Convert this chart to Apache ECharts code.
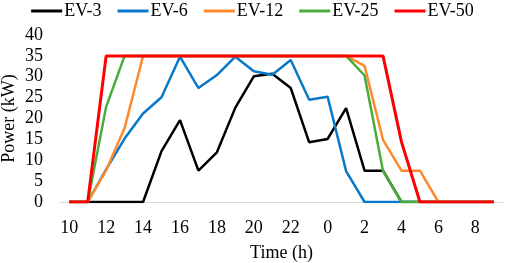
<!DOCTYPE html>
<html>
<head>
<meta charset="utf-8">
<script src="https://cdn.jsdelivr.net/npm/echarts@6/dist/echarts.min.js"></script>
<style>html,body{margin:0;padding:0;background:#fff;}#c{width:505px;height:263px;}</style>
</head>
<body>
<div id="c"></div>
<script>
var hours = ['10','11','12','13','14','15','16','17','18','19','20','21','22','23','0','1','2','3','4','5','6','7','8','9'];
var ev3  = [0,0,0,0,0,12.2,19.6,7.5,11.9,22.6,30.1,30.7,27.3,14.3,15.1,22.5,7.5,7.5,0,0,0,0,0,0];
var ev6  = [0,0,7.8,15.2,21.2,25.1,34.8,27.3,30.4,34.8,31.3,30.5,34,24.5,25.2,7.4,0,0,0,0,0,0,0,0];
var ev12 = [0,0,7.6,17.7,35,35,35,35,35,35,35,35,35,35,35,35,32.6,14.9,7.5,7.5,0,0,0,0];
var ev25 = [0,0,22.8,35,35,35,35,35,35,35,35,35,35,35,35,35,30.3,7.4,0,0,0,0,0,0];
var ev50 = [0,0,35,35,35,35,35,35,35,35,35,35,35,35,35,35,35,35,14.4,0,0,0,0,0];
var names = ['EV-3','EV-6','EV-12','EV-25','EV-50'];
var colors = ['#000000','#0a78c8','#ff8a2e','#48ad3a','#ff0000'];
var allData = [ev3, ev6, ev12, ev25, ev50];
var yTicks = [0,5,10,15,20,25,30,35,40];

var font = 'Liberation Serif';
var series = names.map(function(n,i){
  return {name:n,type:'line',data:allData[i],symbol:'none',showSymbol:false,
    lineStyle:{color:colors[i],width:i===4?3:2.5},itemStyle:{color:colors[i]},
    animation:false};
});
var chart = echarts.init(document.getElementById('c'));
chart.setOption({
  animation:false,
  color:colors,
  legend:{top:-3,left:'center',icon:'rect',itemWidth:31,itemHeight:3,itemGap:16,
    textStyle:{fontFamily:font,fontSize:18,color:'#000',padding:[0,0,0,-3]},
    data:names},
  grid:{left:60,right:2,top:35,bottom:61,containLabel:false,outerBoundsMode:'none'},
  xAxis:{type:'category',data:hours,boundaryGap:true,
    name:'Time (h)',nameLocation:'middle',nameGap:42,nameMoveOverlap:false,
    nameTextStyle:{fontFamily:font,fontSize:18,color:'#000'},
    axisLine:{lineStyle:{color:'#d9d9d9',width:1}},
    axisTick:{show:false},
    axisLabel:{interval:1,fontFamily:font,fontSize:18,color:'#000',margin:17},
    splitLine:{show:false}},
  yAxis:{type:'value',min:yTicks[0],max:yTicks[yTicks.length-1],interval:5,
    name:'Power (kW)',nameLocation:'middle',nameGap:42,nameMoveOverlap:false,
    nameTextStyle:{fontFamily:font,fontSize:18,color:'#000'},
    axisLine:{show:false},axisTick:{show:false},
    axisLabel:{fontFamily:font,fontSize:18,color:'#000',margin:17},
    splitLine:{show:false}},
  series:series
});
</script>
</body>
</html>
